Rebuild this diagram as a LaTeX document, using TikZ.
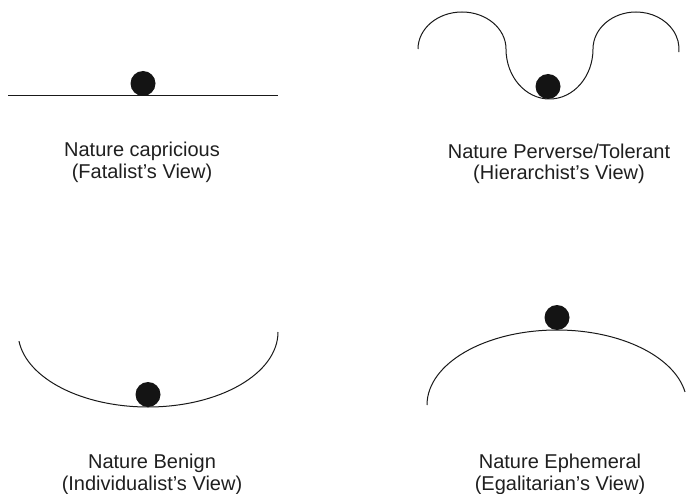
\documentclass[tikz,border=0pt]{standalone}
\usepackage{fontspec}
\setmainfont{Liberation Sans}
\usepackage{tikz}
\usetikzlibrary{positioning}

\begin{document}
\begin{tikzpicture}[
  x=1pt,y=-1pt,
  ball/.style={circle,fill=black!92,inner sep=0pt,minimum size=25pt},
  caption/.style={align=center,inner sep=0pt,anchor=base,text=black!88,font=\fontsize{20}{21.5}\selectfont},
  ground/.style={line width=1pt,black!90}
]
\useasboundingbox (0,0) rectangle (687,494);
% fatalist: flat line
\draw[ground] (8,96) -- (278,96);
\node[ball] (ballF) at (143,83.5) {};
\node[caption] (capF) at (142,178.5) {Nature capricious\\(Fatalist’s View)};
% hierarchist: valley between two humps
\draw[ground] (418,49) arc[start angle=180,end angle=360,x radius=44,y radius=37]
  arc[start angle=180,end angle=0,x radius=43.5,y radius=50]
  arc[start angle=180,end angle=365,x radius=43,y radius=37];
\node[ball] (ballH) at (548,86.5) {};
\node[caption] (capH) at (559,180) {Nature Perverse/Tolerant\\(Hierarchist’s View)};
% individualist: bowl
\draw[ground] (278,332) arc[start angle=0,end angle=173,x radius=130,y radius=75];
\node[ball] (ballI) at (148,394.5) {};
\node[caption] (capI) at (152,490) {Nature Benign\\(Individualist’s View)};
% egalitarian: dome
\draw[ground] (427,405) arc[start angle=180,end angle=350,x radius=130,y radius=75];
\node[ball] (ballE) at (557,317.5) {};
\node[caption] (capE) at (560,490) {Nature Ephemeral\\(Egalitarian’s View)};
\end{tikzpicture}
\end{document}
